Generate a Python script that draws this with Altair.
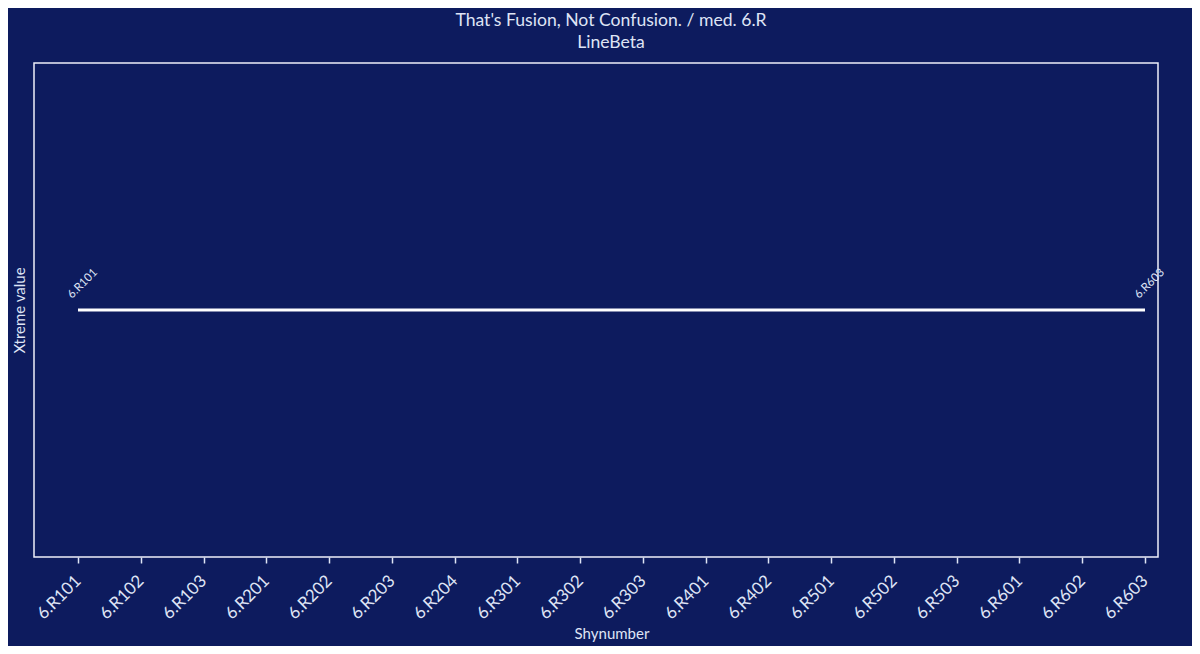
import altair as alt
import pandas as pd

categories = ["6.R101", "6.R102", "6.R103", "6.R201", "6.R202", "6.R203",
              "6.R204", "6.R301", "6.R302", "6.R303", "6.R401", "6.R402",
              "6.R501", "6.R502", "6.R503", "6.R601", "6.R602", "6.R603"]
values = [0.5] * len(categories)
end_labels = ["6.R101", "6.R603"]

df = pd.DataFrame({"cat": categories, "val": values})
df_lab = df[df["cat"].isin(end_labels)]

BG = "#0d1b5e"
FG = "#dfe4f5"
FONT = "Lato"

xenc = alt.X("cat:N", sort=categories, title="Shynumber",
             scale=alt.Scale(type="point", range=[44, 1111], padding=0),
             axis=alt.Axis(labelAngle=-45, labelAlign="right", labelBaseline="middle",
                           labelFontSize=17, labelColor=FG, labelPadding=15,
                           tickColor=FG, tickSize=6, tickWidth=1.5, domain=False,
                           grid=False, titleFontSize=15, titleColor=FG,
                           titleFontWeight="normal", titlePadding=5, labelFont=FONT,
                           titleFont=FONT))
yenc = alt.Y("val:Q", title="Xtreme value",
             scale=alt.Scale(domain=[0, 1]),
             axis=alt.Axis(labels=False, ticks=False, domain=False, grid=False,
                           titleFontSize=15, titleColor=FG, titleFontWeight="normal",
                           titlePadding=7, titleFont=FONT))

line = alt.Chart(df).mark_line(color="white", strokeWidth=3).encode(x=xenc, y=yenc)

labels = alt.Chart(df_lab).mark_text(angle=315, align="left", baseline="alphabetic",
                                     fontSize=11.5, color=FG, font=FONT,
                                     xOffset=-6, yOffset=-11).encode(
    x=alt.X("cat:N", sort=categories), y="val:Q", text="cat:N")

chart = alt.layer(line, labels).properties(
    width=1124, height=494,
    background=BG,
    autosize=alt.AutoSizeParams(type="none"),
    padding={"left": 26, "top": 55, "right": 34, "bottom": 89},
    title=alt.TitleParams(text=["That's Fusion, Not Confusion. / med. 6.R", "LineBeta"],
                          color=FG, fontSize=17.6, fontWeight="normal", font=FONT,
                          anchor="middle", offset=11, lineHeight=22, dx=15),
).configure_view(stroke="#eef0fa", strokeWidth=1.5, fill=BG)

chart.save("out.html", embed_options={"renderer": "svg", "actions": False})
